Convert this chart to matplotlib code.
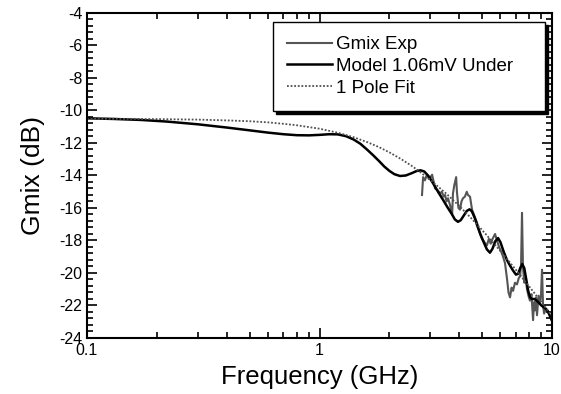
import numpy as np
import matplotlib.pyplot as plt
from matplotlib.ticker import MultipleLocator, FixedLocator, NullFormatter

plt.rcParams['font.family'] = ['Liberation Sans', 'DejaVu Sans']
plt.rcParams['axes.unicode_minus'] = False

# measured mixer gain (GHz, dB)
exp_f = [2.76, 2.79, 2.84, 2.90, 2.95, 2.99, 3.05, 3.10, 3.14, 3.22,
         3.30, 3.36, 3.42, 3.47, 3.52, 3.57, 3.64, 3.72, 3.75, 3.80,
         3.87, 3.90, 3.96, 4.02, 4.08, 4.14, 4.22, 4.30, 4.35, 4.44,
         4.53, 4.64, 4.76, 4.90, 5.00, 5.12, 5.25, 5.35, 5.45, 5.55,
         5.69, 5.80, 5.92, 6.05, 6.16, 6.28, 6.41, 6.50, 6.60, 6.70,
         6.80, 6.93, 7.07, 7.20, 7.29, 7.36, 7.43, 7.50, 7.60, 7.70,
         7.81, 7.92, 8.04, 8.16, 8.29, 8.37, 8.45, 8.53, 8.62, 8.75,
         8.88, 8.97, 9.06, 9.15, 9.25, 9.40, 9.52, 9.70, 9.85, 10.0]
exp_g = [-15.2, -14.1, -14.3, -13.95, -14.2, -14.15, -13.95, -14.4, -14.8, -14.9,
         -15.1, -15.0, -15.3, -15.2, -15.6, -15.4, -15.8, -16.4, -15.1, -14.6,
         -14.1, -15.0, -16.0, -16.1, -15.6, -15.4, -15.3, -15.0, -15.2, -15.3,
         -16.1, -16.5, -16.9, -17.6, -17.9, -18.1, -18.3, -17.9, -18.2, -17.9,
         -17.6, -18.0, -18.4, -18.7, -19.0, -19.4, -20.4, -21.2, -21.5, -20.9,
         -21.1, -20.6, -20.7, -20.3, -20.2, -19.5, -16.3, -19.6, -20.6, -20.4,
         -21.0, -21.4, -21.7, -21.3, -22.9, -21.8, -22.3, -21.5, -22.6, -21.4,
         -21.9, -21.3, -19.8, -22.0, -22.5, -22.2, -22.3, -22.5, -22.7, -22.8]

# model, 1.06 mV under
model_f = [0.1, 0.13, 0.17, 0.22, 0.3, 0.4, 0.5, 0.6, 0.7, 0.8,
           0.9, 1.0, 1.1, 1.2, 1.3, 1.4, 1.5, 1.6, 1.7, 1.8,
           1.9, 2.0, 2.1, 2.22, 2.35, 2.5, 2.62, 2.72, 2.82, 2.95,
           3.1, 3.25, 3.4, 3.55, 3.7, 3.82, 3.94, 4.05, 4.18, 4.3,
           4.42, 4.52, 4.65, 4.8, 4.95, 5.1, 5.25, 5.41, 5.55, 5.7,
           5.86, 6.0, 6.2, 6.4, 6.6, 6.8, 7.0, 7.15, 7.3, 7.45,
           7.6, 7.75, 7.9, 8.05, 8.2, 8.4, 8.6, 8.8, 9.0, 9.2,
           9.4, 9.6, 9.8, 10.0]
model_g = [-10.48, -10.52, -10.58, -10.68, -10.85, -11.05, -11.22, -11.36, -11.46, -11.52,
           -11.53, -11.5, -11.46, -11.47, -11.58, -11.78, -12.05, -12.4, -12.75, -13.1,
           -13.45, -13.72, -13.92, -14.03, -14.0, -13.85, -13.72, -13.68, -13.75, -14.05,
           -14.55, -15.05, -15.5, -15.95, -16.35, -16.7, -16.85, -16.75, -16.45, -16.18,
           -16.08, -16.2, -16.6, -17.2, -17.7, -18.15, -18.55, -18.75, -18.5, -18.05,
           -17.85, -18.1, -18.7, -19.2, -19.55, -19.85, -20.1, -20.05, -19.7, -19.45,
           -19.7, -20.4, -21.1, -21.5, -21.6, -21.6, -21.7, -21.85, -22.0, -22.1,
           -22.2, -22.35, -22.65, -22.95]

# single pole fit
fit_f = [0.1, 0.15, 0.2, 0.3, 0.4, 0.5, 0.6, 0.7, 0.8, 1.0,
         1.2, 1.4, 1.6, 1.8, 2.0, 2.25, 2.5, 2.7, 3.0, 3.5,
         4.0, 4.5, 5.0, 5.5, 6.0, 6.5, 7.0, 7.5, 8.0, 8.5,
         9.0, 9.5, 10.0]
fit_g = [-10.51, -10.515, -10.53, -10.56, -10.61, -10.66, -10.73, -10.82, -10.91, -11.12,
         -11.37, -11.64, -11.94, -12.25, -12.58, -13.0, -13.42, -13.77, -14.28, -15.1,
         -15.89, -16.64, -17.35, -18.02, -18.65, -19.25, -19.81, -20.35, -20.85, -21.33,
         -21.79, -22.23, -22.64]

fig = plt.figure(figsize=(5.61, 3.94), dpi=100)
ax = fig.add_axes([87/561, 1 - 338/394, (552 - 87)/561, (338 - 13)/394])

ax.plot(exp_f, exp_g, color='#555555', lw=1.5, label='Gmix Exp')
ax.plot(model_f, model_g, color='black', lw=1.8, label='Model 1.06mV Under')
ax.plot(fit_f, fit_g, color='#505050', lw=1.3, ls=(0, (1, 1)), label='1 Pole Fit')

ax.set_xscale('log')
ax.set_xlim(0.1, 10)
ax.set_ylim(-24, -4)
ax.set_xticks([0.1, 1, 10])
ax.set_xticklabels(['0.1', '1', '10'])
ax.xaxis.set_minor_locator(FixedLocator([k * 10.0**e for e in (-1, 0) for k in range(2, 10)]))
ax.xaxis.set_minor_formatter(NullFormatter())
ax.yaxis.set_major_locator(MultipleLocator(2))
ax.yaxis.set_minor_locator(MultipleLocator(0.4))

ax.tick_params(which='both', direction='in', top=True, right=True, labelsize=11.5, width=1.2)
ax.tick_params(which='major', length=7)
ax.tick_params(which='minor', length=4)
for s in ax.spines.values():
    s.set_linewidth(1.5)

ax.set_xlabel('Frequency (GHz)', fontsize=18.5, labelpad=5)
ax.set_ylabel('Gmix (dB)', fontsize=19, labelpad=10)

leg = ax.legend(loc='upper left',
                bbox_to_anchor=(273/561, 1 - 105/394, (545 - 273)/561, (105 - 22)/394),
                bbox_transform=fig.transFigure, mode='expand', borderaxespad=0,
                fontsize=13.5, frameon=True, fancybox=False, edgecolor='black',
                framealpha=1, shadow={'color': 'black', 'alpha': 1}, handlelength=2.4,
                handletextpad=0.2, labelspacing=0.25, borderpad=0.75)
leg.get_frame().set_linewidth(1.0)

fig.savefig('out.png', dpi=100)
